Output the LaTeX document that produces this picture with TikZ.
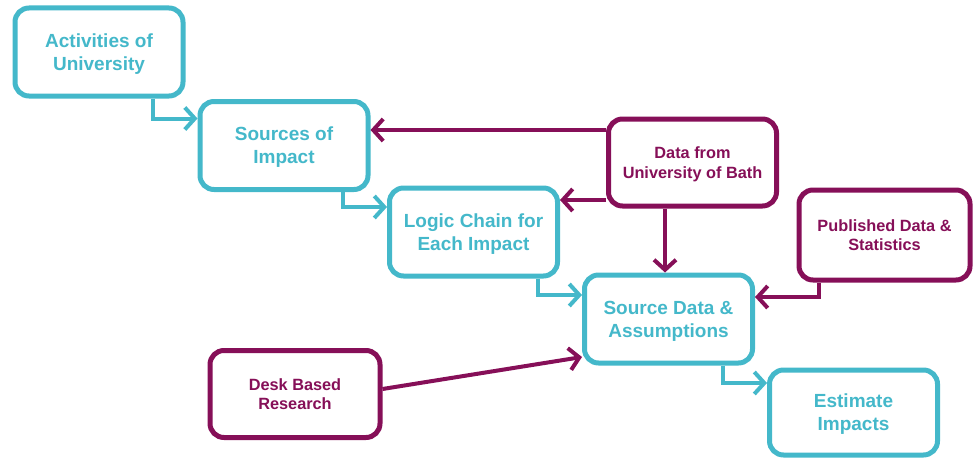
\documentclass[tikz,border=0pt]{standalone}
\usepackage{fontspec}
\setmainfont{Liberation Sans}
\usepackage{tikz}
\usetikzlibrary{arrows.meta,positioning}
\usepackage{xcolor}
\definecolor{ImpactTeal}{HTML}{44B8CA}
\definecolor{ImpactPlum}{HTML}{860F58}
\tikzset{
  stagebox/.style={draw=ImpactTeal,line width=5pt,rounded corners=14pt,fill=white,align=center,
    text=ImpactTeal,font=\fontsize{19}{23}\selectfont\bfseries,text depth=-3pt,
    minimum width=168pt,minimum height=88pt},
  inputbox/.style={draw=ImpactPlum,line width=5pt,rounded corners=14pt,fill=white,align=center,
    text=ImpactPlum,font=\fontsize{16.3}{19.5}\selectfont\bfseries,text depth=-4.5pt,
    minimum width=168pt,minimum height=87pt},
  stagearrow/.style={-{Straight Barb[length=10pt,width=22pt,line width=4pt]},line width=4pt,draw=ImpactTeal},
  inputarrow/.style={-{Straight Barb[length=10pt,width=22pt,line width=4pt]},line width=4pt,draw=ImpactPlum}
}
\begin{document}
\begin{tikzpicture}[x=1pt,y=1pt]
  \useasboundingbox (0,0) rectangle (976,459);

  % main chain of stages, stepping down to the right
  \node[stagebox] (activities) at (99,407) {Activities of\\University};
  \node[stagebox] (sources) at (284,313.5) {Sources of\\Impact};
  \node[stagebox] (logic) at (473.5,227) {Logic Chain for\\Each Impact};
  \node[stagebox] (srcdata) at (668.5,140) {Source Data \&\\Assumptions};
  \node[stagebox,minimum height=85pt] (estimate) at (853.5,46.5) {Estimate\\Impacts};

  % data inputs
  \node[inputbox] (bath) at (692.5,296.5) {Data from\\University of Bath};
  \node[inputbox,minimum width=171pt,minimum height=90pt] (published) at (884.5,224)
    {Published Data \&\\Statistics};
  \node[inputbox,minimum width=170pt] (desk) at (295,65) {Desk Based\\Research};

  \draw[stagearrow] ([xshift=54pt]activities.south) |- ([yshift=27pt]sources.west);
  \draw[stagearrow] ([xshift=59pt]sources.south) |- ([yshift=25pt]logic.west);
  \draw[stagearrow] ([xshift=64.5pt]logic.south) |- ([yshift=24pt]srcdata.west);
  \draw[stagearrow] ([xshift=54.5pt]srcdata.south) |- ([yshift=29.5pt]estimate.west);

  \draw[inputarrow] ([yshift=32.5pt]bath.west) coordinate (bathtop) -- (bathtop -| sources.east);
  \draw[inputarrow] ([yshift=-37.5pt]bath.west) coordinate (bathlow) -- (bathlow -| logic.east);
  \draw[inputarrow] ([xshift=-27.5pt]bath.south) coordinate (bathdown) -- (bathdown |- srcdata.north);
  \draw[inputarrow] ([xshift=-65.5pt]published.south) |- ([yshift=22pt]srcdata.east);
  \draw[inputarrow] ([yshift=5pt]desk.east) -- ([yshift=-38pt]srcdata.west);
\end{tikzpicture}
\end{document}
